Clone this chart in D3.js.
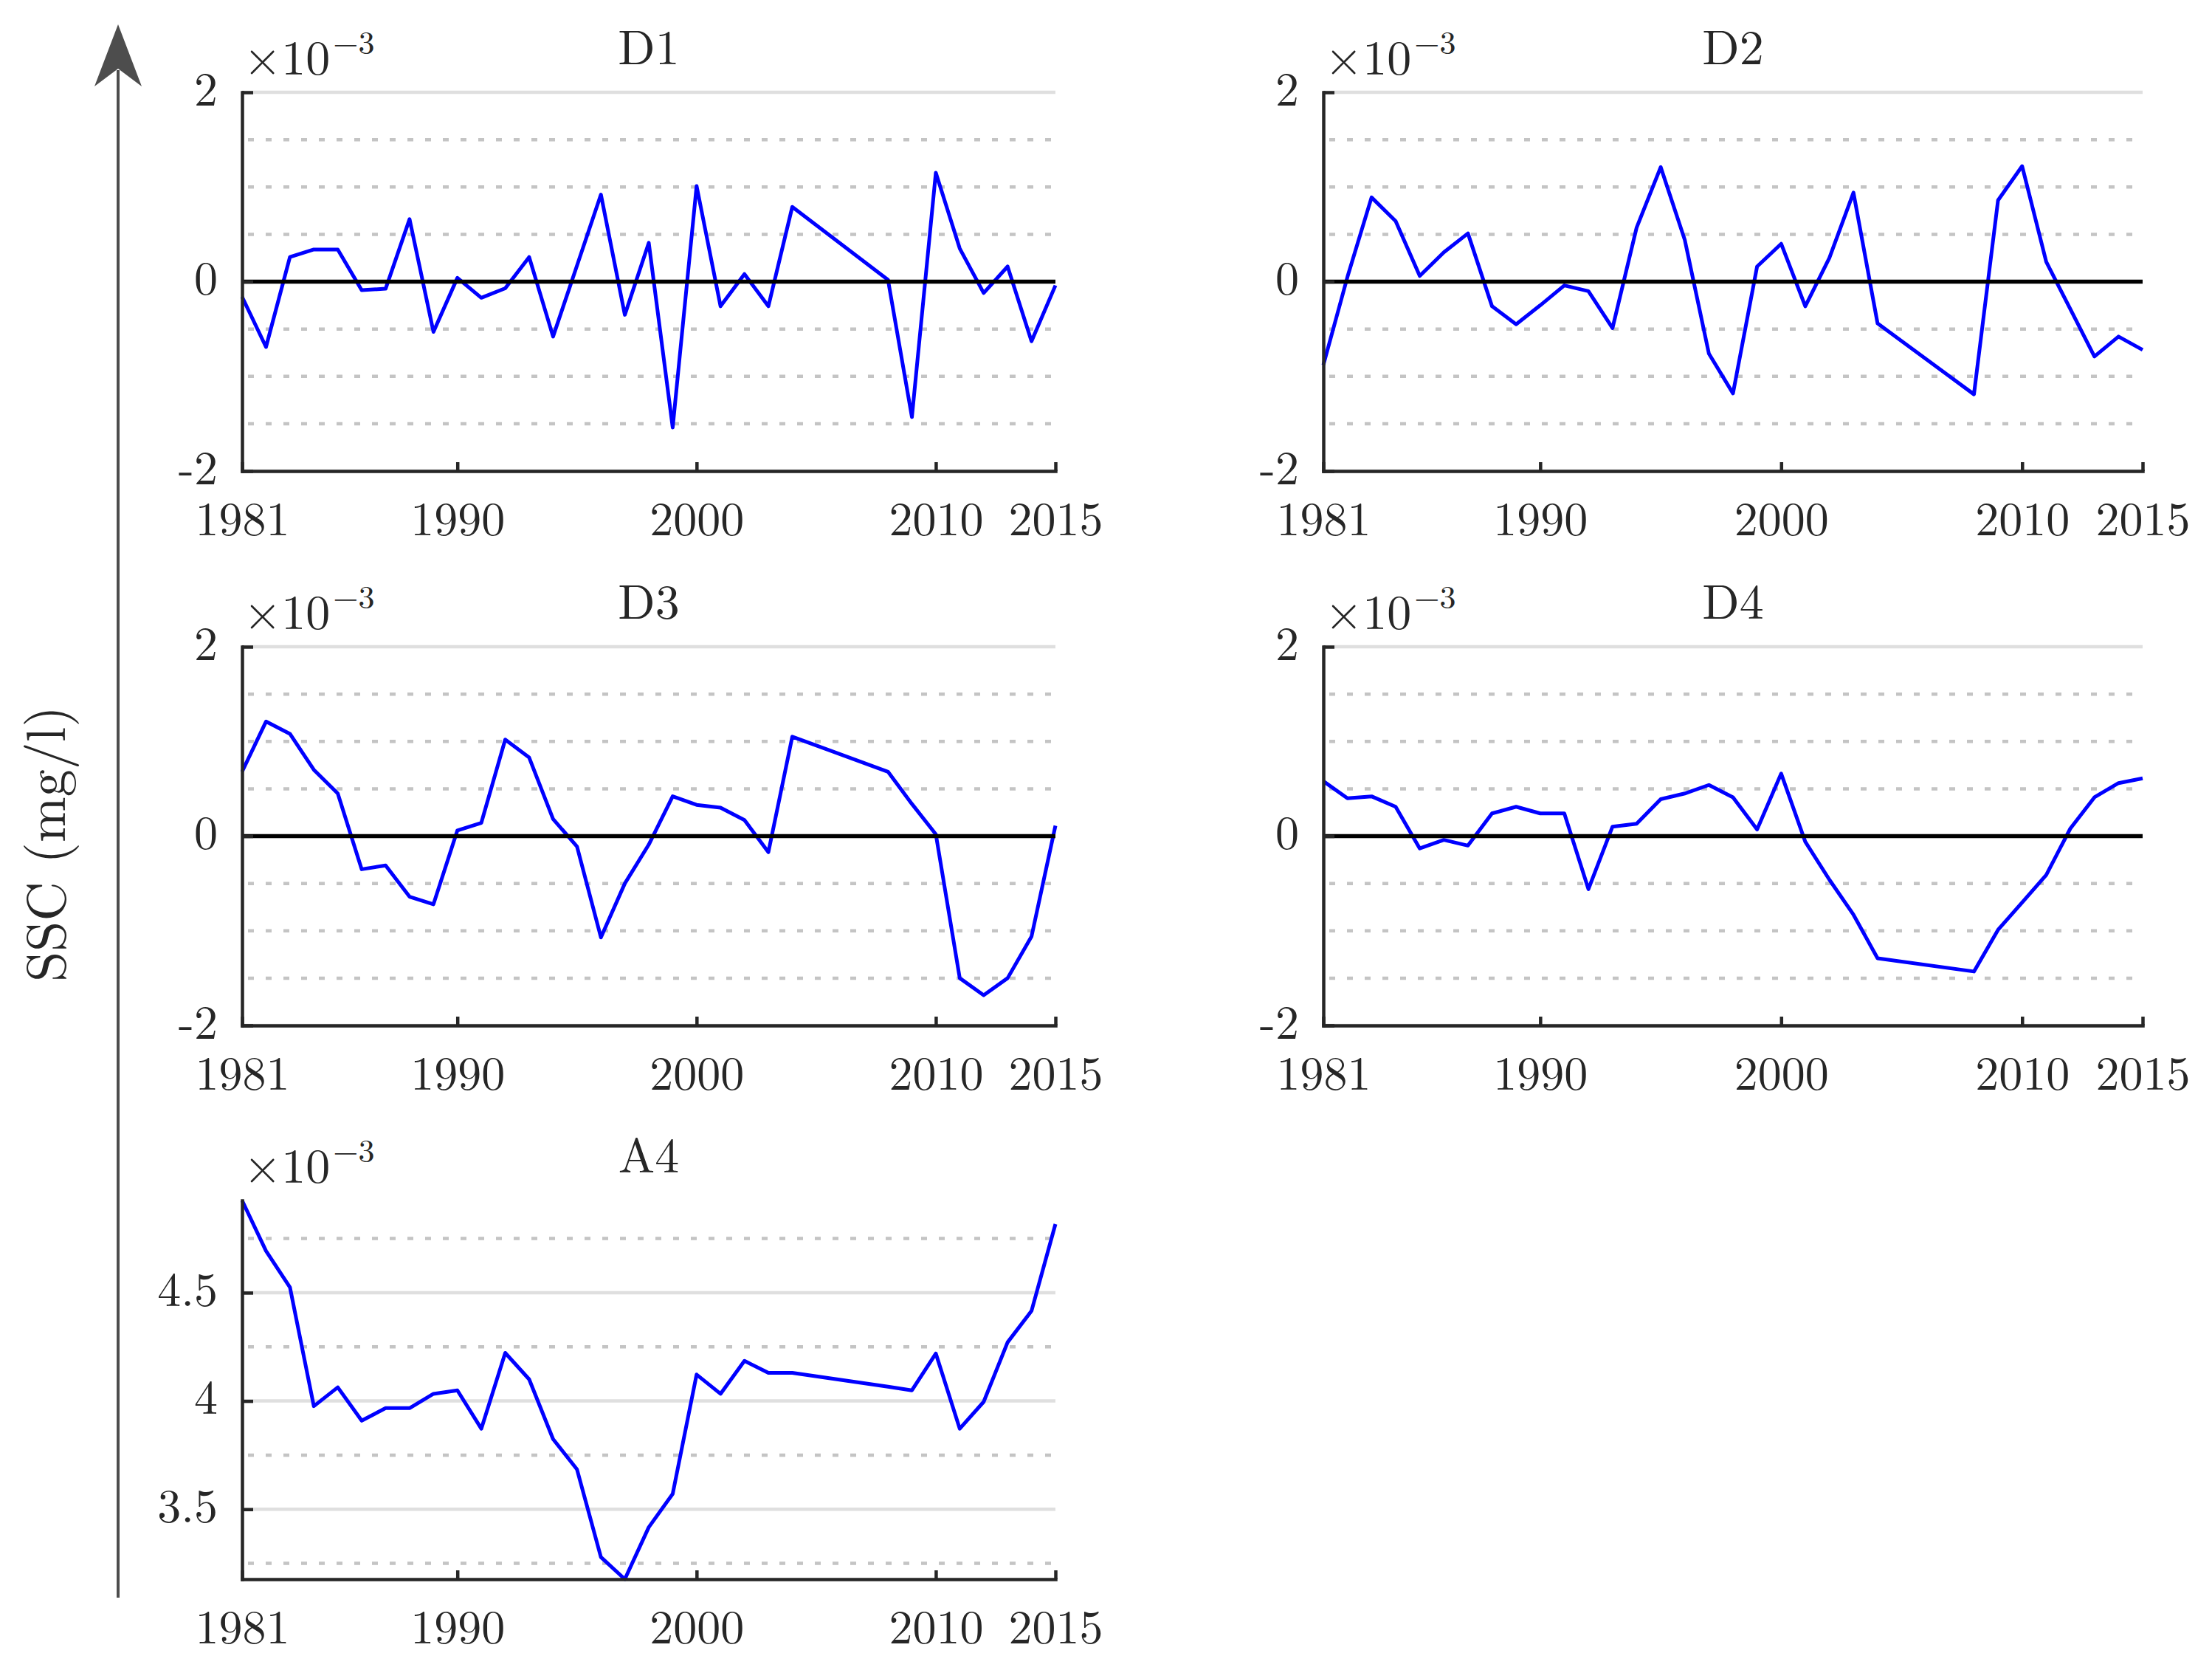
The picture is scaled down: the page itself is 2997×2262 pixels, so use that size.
<!DOCTYPE html>
<html>
<head>
<meta charset="utf-8">
<script src="https://cdn.jsdelivr.net/npm/d3@7"></script>
<style>
body { margin: 0; background: #fff; }
text { font-family: "Latin Modern Roman", "CMU Serif", "Liberation Serif", "DejaVu Serif", serif; fill: #262626; }
</style>
</head>
<body>
<script>
// years with data (2005-2007 missing)
const years = [1981, 1982, 1983, 1984, 1985, 1986, 1987, 1988, 1989, 1990,
    1991, 1992, 1993, 1994, 1995, 1996, 1997, 1998, 1999, 2000,
    2001, 2002, 2003, 2004, 2008, 2009, 2010, 2011, 2012, 2013, 2014, 2015];

// values in units of 1e-3 mg/l
const d1 = [-0.16, -0.69, 0.26, 0.34, 0.34, -0.09, -0.075, 0.66, -0.53, 0.04,
    -0.17, -0.07, 0.26, -0.58, 0.17, 0.92, -0.35, 0.41, -1.54, 1.01,
    -0.26, 0.08, -0.26, 0.79, 0.02, -1.43, 1.15, 0.35, -0.12, 0.16, -0.63, -0.04];
const d2 = [-0.88, 0.05, 0.89, 0.64, 0.06, 0.31, 0.51, -0.26, -0.45, -0.25,
    -0.04, -0.10, -0.49, 0.57, 1.21, 0.44, -0.76, -1.18, 0.16, 0.40,
    -0.26, 0.25, 0.94, -0.44, -1.19, 0.86, 1.22, 0.21, -0.29, -0.79, -0.58, -0.72];
const d3v = [0.68, 1.21, 1.08, 0.70, 0.45, -0.35, -0.31, -0.64, -0.72, 0.06,
    0.14, 1.02, 0.83, 0.18, -0.11, -1.07, -0.50, -0.09, 0.42, 0.33,
    0.30, 0.17, -0.17, 1.05, 0.68, 0.34, 0.02, -1.50, -1.68, -1.50, -1.06, 0.11];
const d4 = [0.58, 0.40, 0.42, 0.31, -0.13, -0.04, -0.10, 0.24, 0.31, 0.24,
    0.24, -0.56, 0.10, 0.13, 0.39, 0.45, 0.54, 0.41, 0.07, 0.66,
    -0.06, -0.46, -0.83, -1.29, -1.43, -0.99, -0.70, -0.41, 0.08, 0.41, 0.56, 0.61];
const a4 = [4.926, 4.693, 4.525, 3.976, 4.063, 3.909, 3.967, 3.967, 4.033, 4.049,
    3.872, 4.222, 4.100, 3.824, 3.684, 3.279, 3.177, 3.417, 3.571, 4.122,
    4.033, 4.185, 4.130, 4.130, 4.066, 4.049, 4.219, 3.872, 3.996, 4.271, 4.416, 4.817];

const names = ["D1", "D2", "D3", "D4", "A4"];
const yearTicks = [1981, 1990, 2000, 2010, 2015];
const devTicks = [-2, 0, 2];
const devMinor = [-1.5, -1, -0.5, 0.5, 1, 1.5];
const a4Ticks = [3.5, 4, 4.5];
const a4Minor = [3.25, 3.75, 4.25, 4.75];

const width = 2997;
const height = 2262;
const fontSize = 64;
const axisColor = "#262626";

const svg = d3.select("body")
    .append("svg")
    .attr("width", width)
    .attr("height", height);

const cols = [[328, 1430], [1793, 2903]];
const rows = [[125, 638], [876, 1389], [1626, 2139]];
const series = [d1, d2, d3v, d4, a4];

series.forEach(function(vals, i) {
    const c = cols[i % 2];
    const r = rows[Math.floor(i / 2)];
    const isA4 = names[i] === "A4";
    const x = d3.scaleLinear().domain([1981, 2015]).range(c);
    const y = d3.scaleLinear()
        .domain(isA4 ? d3.extent(vals) : [-2, 2])
        .range([r[1], r[0]]);
    const major = isA4 ? a4Ticks : devTicks;
    const minor = isA4 ? a4Minor : devMinor;
    const g = svg.append("g");

    // grid
    g.selectAll("line.minor")
        .data(minor)
      .enter().append("line")
        .attr("class", "minor")
        .attr("x1", c[0] + 8).attr("x2", c[1])
        .attr("y1", y).attr("y2", y)
        .style("stroke", "#c4c4c4")
        .style("stroke-width", 4.5)
        .style("stroke-dasharray", "8,16");
    g.selectAll("line.major")
        .data(major)
      .enter().append("line")
        .attr("class", "major")
        .attr("x1", c[0]).attr("x2", c[1])
        .attr("y1", y).attr("y2", y)
        .style("stroke", "#dfdfdf")
        .style("stroke-width", 4.5);

    // series
    const line = d3.line()
        .x(function(d, k) { return x(years[k]); })
        .y(function(d) { return y(d); });
    g.append("path")
        .datum(vals)
        .attr("d", line)
        .style("fill", "none")
        .style("stroke", "#0000ff")
        .style("stroke-width", 5)
        .style("stroke-linejoin", "round");

    if (!isA4) {
        g.append("line")
            .attr("x1", c[0]).attr("x2", c[1])
            .attr("y1", y(0)).attr("y2", y(0))
            .style("stroke", "#000")
            .style("stroke-width", 5.5);
    }

    // axes
    const xAxis = d3.axisBottom(x)
        .tickValues(yearTicks)
        .tickFormat(d3.format("d"))
        .tickSizeInner(-12)
        .tickSizeOuter(0)
        .tickPadding(42);
    const yAxis = d3.axisLeft(y)
        .tickValues(major)
        .tickFormat(function(d) { return String(d); })
        .tickSizeInner(-15)
        .tickSizeOuter(0)
        .tickPadding(33);

    const gx = g.append("g")
        .attr("transform", `translate(0,${r[1]})`)
        .call(xAxis);
    const gy = g.append("g")
        .attr("transform", `translate(${c[0]},0)`)
        .call(yAxis);
    gy.selectAll("text").attr("dy", "0.27em");

    [gx, gy].forEach(function(a) {
        a.attr("font-size", fontSize);
        a.select(".domain")
            .style("stroke", axisColor)
            .style("stroke-width", 4.5)
            .style("stroke-linecap", "square");
        a.selectAll(".tick line")
            .style("stroke", axisColor)
            .style("stroke-width", 4.5);
    });

    // title
    g.append("text")
        .attr("x", (c[0] + c[1]) / 2)
        .attr("y", r[0] - 38)
        .attr("text-anchor", "middle")
        .attr("font-size", 66)
        .text(names[i]);

    // exponent
    const ex = g.append("text")
        .attr("x", c[0] + 2)
        .attr("y", r[0] - 24)
        .attr("font-size", 66);
    ex.append("tspan").text("\u00d710");
    ex.append("tspan")
        .attr("font-size", 44)
        .attr("dx", 4)
        .attr("dy", -28)
        .text("\u22123");
});

// y label with arrow
svg.append("text")
    .attr("transform", "translate(88,1143) rotate(-90)")
    .attr("text-anchor", "middle")
    .attr("font-size", 74)
    .text("SSC (mg/l)");

svg.append("line")
    .attr("x1", 160).attr("x2", 160)
    .attr("y1", 2164).attr("y2", 95)
    .style("stroke", "#4d4d4d")
    .style("stroke-width", 4);
svg.append("path")
    .attr("d", "M160,33 L128,117 L160,93 L192,117 Z")
    .style("fill", "#4d4d4d");
</script>
</body>
</html>
